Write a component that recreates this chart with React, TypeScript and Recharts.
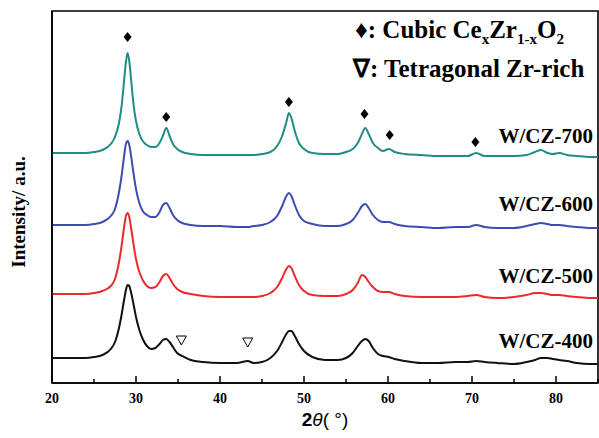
import { ComposedChart, Line, Scatter, XAxis, YAxis, ReferenceArea } from 'recharts';

// 2θ sampling positions (degrees)
const twoTheta = [
  20, 22, 24, 25, 26, 27, 27.5, 28, 28.3, 28.6, 28.8, 29, 29.2, 29.4, 29.7, 30,
  30.4, 30.8, 31.3, 31.8, 32.3, 32.8, 33.2, 33.6, 34, 34.4, 34.9, 35.5, 36.5, 38,
  40, 42, 43.3, 44, 45, 46, 46.8, 47.4, 47.9, 48.2, 48.5, 48.9, 49.4, 50, 51, 52.5,
  54, 55, 55.8, 56.4, 56.9, 57.3, 57.7, 58.2, 58.8, 59.4, 60.1, 60.8, 62, 64, 66,
  68, 69.5, 70.5, 71.5, 73, 75, 76.5, 77.5, 78.2, 79, 79.6, 80.4, 81.3, 82.5, 84, 85,
];

// stacked intensities (a.u., offset per sample)
const cz400 = [
  25, 25, 25, 26, 28, 34, 41, 56, 69, 84, 93, 98, 97, 91, 79, 66,
  53, 44, 37, 34, 35, 39, 43, 44, 41, 36, 30, 27, 23, 21,
  20, 20, 22, 20, 21, 25, 32, 41, 49, 52, 52, 47, 39, 32, 26, 23,
  23, 25, 30, 37, 42, 44, 42, 35, 29, 27, 26, 24, 22, 20, 20,
  21, 21, 22, 21, 20, 19, 21, 23, 25, 25, 24, 23, 22, 20, 19, 19,
];
const cz500 = [
  89, 89, 89, 90, 92, 97, 104, 122, 138, 157, 167, 170, 166, 156, 139, 124,
  111, 103, 97, 95, 96, 101, 107, 109, 105, 99, 94, 91, 89, 87,
  86, 86, 86, 86, 87, 90, 96, 105, 114, 117, 115, 107, 98, 92, 88, 87,
  87, 89, 93, 100, 108, 106, 101, 96, 92, 91, 91, 89, 87, 86, 86,
  86, 87, 88, 86, 85, 86, 88, 90, 90, 89, 88, 88, 87, 86, 85, 85,
];
const cz600 = [
  158, 158, 158, 159, 161, 167, 174, 192, 208, 228, 239, 242, 238, 228, 210, 194,
  180, 172, 168, 166, 166, 171, 178, 180, 175, 168, 163, 160, 158, 157,
  157, 156, 156, 157, 158, 161, 167, 177, 187, 190, 187, 178, 168, 162, 159, 157,
  157, 159, 163, 170, 177, 179, 175, 168, 163, 161, 161, 159, 157, 156, 155,
  156, 156, 158, 156, 155, 155, 157, 159, 160, 159, 158, 158, 157, 156, 155, 155,
];
const cz700 = [
  230, 230, 230, 231, 233, 239, 246, 261, 278, 304, 321, 330, 322, 305, 279, 262,
  249, 242, 238, 236, 236, 240, 247, 255, 247, 239, 234, 231, 229, 228,
  228, 228, 228, 228, 229, 231, 237, 247, 261, 270, 265, 252, 240, 234, 230, 229,
  229, 231, 234, 240, 249, 255, 249, 240, 235, 232, 234, 231, 229, 228, 227,
  227, 227, 230, 227, 227, 227, 228, 231, 233, 230, 229, 230, 228, 227, 226, 226,
];

// reflection markers
const cubicPos = [29.0, 33.6, 48.2, 57.2, 60.2, 70.4];
const cubicMark = [346, 266, 281, 269, 248, 241];
const tetraPos = [35.4, 43.3];
const tetraMark = [43, 41];

const xTicks = [20, 25, 30, 35, 40, 45, 50, 55, 60, 65, 70, 75, 80, 85];

const sampleNames = ['W/CZ-700', 'W/CZ-600', 'W/CZ-500', 'W/CZ-400'];
const sampleKeys = ['cz700', 'cz600', 'cz500', 'cz400'];
const sampleColors = ['#218c84', '#3d4cb3', '#ec2a2c', '#111111'];
const labelBaselines = [143, 211, 283, 348];

const rows = twoTheta.map((t, i) => ({
  twoTheta: t,
  cz400: cz400[i],
  cz500: cz500[i],
  cz600: cz600[i],
  cz700: cz700[i],
}));
const cubicData = cubicPos.map((t, i) => ({ twoTheta: t, v: cubicMark[i] }));
const tetraData = tetraPos.map((t, i) => ({ twoTheta: t, v: tetraMark[i] }));

const SERIF = "'Liberation Serif', 'Times New Roman', serif";

function AxisTick(props: any) {
  const { x, y, payload } = props;
  const major = payload.value % 10 === 0;
  return (
    <g>
      <line x1={x} x2={x} y1={y} y2={y - (major ? 7 : 4)} stroke="#000" strokeWidth={1.5} />
      {major && payload.value <= 80 && (
        <text
          x={x}
          y={y + 20}
          textAnchor="middle"
          style={{ fontFamily: SERIF, fontWeight: 'bold', fontSize: 14 }}
          fill="#000"
        >
          {payload.value}
        </text>
      )}
    </g>
  );
}

const Diamond = (p: any) => (
  <polygon
    points={`${p.cx},${p.cy - 5} ${p.cx + 4},${p.cy} ${p.cx},${p.cy + 5} ${p.cx - 4},${p.cy}`}
    fill="#000"
  />
);

const DownTriangle = (p: any) => (
  <polygon
    points={`${p.cx - 5},${p.cy - 4} ${p.cx + 5},${p.cy - 4} ${p.cx},${p.cy + 5}`}
    fill="none"
    stroke="#000"
    strokeWidth={1}
  />
);

export default function App() {
  return (
    <div style={{ position: 'absolute', left: 0, top: 0, background: '#fff' }}>
      <ComposedChart width={599} height={438} data={rows} margin={{ top: 11, right: 1, bottom: 0, left: 0 }}>
        <XAxis
          dataKey="twoTheta"
          type="number"
          domain={[20, 85]}
          ticks={xTicks}
          interval={0}
          allowDataOverflow
          tickLine={false}
          tickSize={0}
          tickMargin={0}
          tick={<AxisTick />}
          axisLine={{ stroke: '#000', strokeWidth: 1.6 }}
          height={55}
        />
        <YAxis
          type="number"
          domain={[0, 372]}
          allowDataOverflow
          width={52}
          tick={false}
          tickLine={false}
          axisLine={{ stroke: '#000', strokeWidth: 1.6 }}
        />
        <ReferenceArea x1={20} x2={85} y1={0} y2={372} fill="none" stroke="#000" strokeWidth={1.6} />
        {sampleKeys.map((k, i) => (
          <Line
            key={k}
            dataKey={k}
            type="monotone"
            stroke={sampleColors[i]}
            strokeWidth={2}
            dot={false}
            isAnimationActive={false}
          />
        ))}
        <Scatter data={cubicData} dataKey="v" shape={<Diamond />} isAnimationActive={false} />
        <Scatter data={tetraData} dataKey="v" shape={<DownTriangle />} isAnimationActive={false} />

        {sampleNames.map((n, i) => (
          <text key={n} x={593} y={labelBaselines[i]} textAnchor="end" fontFamily={SERIF} fontWeight="bold" fontSize={21} fill="#000">
            {n}
          </text>
        ))}

        <text x={355} y={38} fontFamily={SERIF} fontWeight="bold" fontSize={25} fill="#000">
          ♦: Cubic Ce
          <tspan fontSize={15} dy={6}>x</tspan>
          <tspan dy={-6}>Zr</tspan>
          <tspan fontSize={15} dy={6}>1-x</tspan>
          <tspan dy={-6}>O</tspan>
          <tspan fontSize={15} dy={6}>2</tspan>
        </text>
        <text x={353} y={77} fontFamily={SERIF} fontWeight="bold" fontSize={25} fill="#000">
          ∇: Tetragonal Zr-rich
        </text>

        <text x={325} y={426} textAnchor="middle" fontFamily="'Liberation Sans', Arial, sans-serif" fontWeight="bold" fontSize={19} fill="#000">
          2<tspan fontStyle="italic" fontWeight="normal">θ</tspan>
          <tspan fontWeight="normal">( °)</tspan>
        </text>
        <text
          x={18}
          y={212}
          transform="rotate(-90, 18, 212)"
          textAnchor="middle"
          dominantBaseline="central"
          fontFamily={SERIF}
          fontWeight="bold"
          fontSize={19}
          fill="#000"
        >
          Intensity/ a.u.
        </text>
      </ComposedChart>
    </div>
  );
}
